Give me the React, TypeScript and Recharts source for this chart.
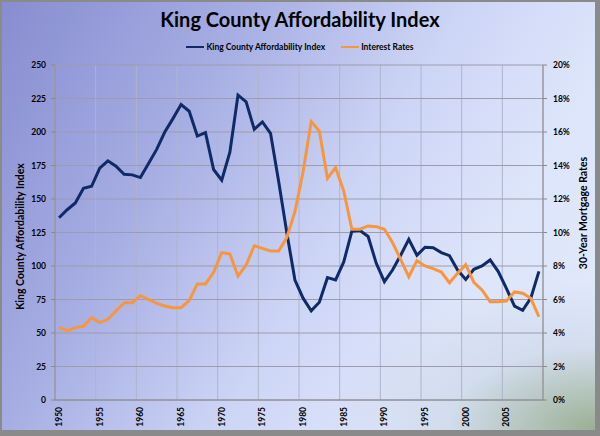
import { CartesianGrid, Line, LineChart, XAxis, YAxis } from "recharts";

// King County affordability index vs. 30-year mortgage rates, 1950-2009

const years = [
	1950, 1951, 1952, 1953, 1954, 1955, 1956, 1957, 1958, 1959,
	1960, 1961, 1962, 1963, 1964, 1965, 1966, 1967, 1968, 1969,
	1970, 1971, 1972, 1973, 1974, 1975, 1976, 1977, 1978, 1979,
	1980, 1981, 1982, 1983, 1984, 1985, 1986, 1987, 1988, 1989,
	1990, 1991, 1992, 1993, 1994, 1995, 1996, 1997, 1998, 1999,
	2000, 2001, 2002, 2003, 2004, 2005, 2006, 2007, 2008, 2009,
];

const affordability = [
	136, 142, 147, 158, 159.5, 173, 178.5, 174.5, 168.5, 168,
	166, 176.5, 187, 200, 210, 220.5, 215.5, 197, 199.5, 172,
	164, 185, 227.5, 222.5, 202, 207.5, 199, 163, 125, 89.5,
	76, 66.5, 73, 91.3, 89.6, 103, 126, 126.5, 122, 102,
	88.3, 97, 108, 120, 108, 114, 113.7, 110, 107.7, 97,
	90, 97.5, 100, 104.5, 95.8, 83.3, 70, 67, 76, 96,
];

const interestRates = [
	4.34, 4.12, 4.32, 4.4, 4.91, 4.62, 4.82, 5.31, 5.81, 5.81,
	6.23, 6.01, 5.77, 5.61, 5.51, 5.51, 5.93, 6.93, 6.93, 7.62,
	8.8, 8.72, 7.4, 8.06, 9.21, 9.05, 8.9, 8.9, 9.7, 11.24,
	13.63, 16.62, 16.06, 13.23, 13.87, 12.48, 10.19, 10.2, 10.39, 10.35,
	10.19, 9.4, 8.4, 7.36, 8.32, 8.0, 7.84, 7.64, 7.0, 7.56,
	8.08, 7.03, 6.57, 5.87, 5.87, 5.91, 6.45, 6.37, 6.07, 4.97,
];

const yearLabels = [1950, 1955, 1960, 1965, 1970, 1975, 1980, 1985, 1990, 1995, 2000, 2005];
const indexTicks = [0, 25, 50, 75, 100, 125, 150, 175, 200, 225, 250];
const rateTicks = [0, 2, 4, 6, 8, 10, 12, 14, 16, 18, 20];

const data = years.map((year, i) => ({ year, index: affordability[i], rate: interestRates[i] }));

// category boundaries (Excel puts ticks between categories)
const boundaries = [...years.map((y) => y - 0.5), years[years.length - 1] + 0.5];
const majorBoundaries = boundaries.filter((v) => (v + 0.5) % 5 === 0);
const xDomain = [boundaries[0], boundaries[boundaries.length - 1]];

const FONT = "Lato, 'DejaVu Sans', sans-serif";
const BLUE = "#0e2a68";
const ORANGE = "#f8963f";

function YearTick({ x, y, payload }: any) {
	return (
		<text
			transform={`translate(${x},${y}) rotate(-90)`}
			textAnchor="end"
			dominantBaseline="central"
			fontSize={8.5}
			fontWeight={700}
			fontFamily={FONT}
			fill="#000"
		>
			{payload.value}
		</text>
	);
}

function AxisTitle({ viewBox, value, cx, cy }: any) {
	const y = cy ?? viewBox.y + viewBox.height / 2;
	return (
		<text
			transform={`translate(${cx},${y}) rotate(-90)`}
			textAnchor="middle"
			dominantBaseline="central"
			fontSize={10.5}
			fontWeight={700}
			fontFamily={FONT}
			fill="#000"
		>
			{value}
		</text>
	);
}

function LegendItem({ color, label }: { color: string; label: string }) {
	return (
		<span style={{ display: "inline-flex", alignItems: "center", margin: "0 8px" }}>
			<span style={{ display: "inline-block", width: 18, height: 2, background: color, marginRight: 2 }} />
			<span>{label}</span>
		</span>
	);
}

// vertical gridlines at every fifth category boundary
function verticalGrid({ xAxis }: any) {
	const s = xAxis?.scale;
	if (!s) return [];
	const f = typeof s === "function" ? s : (v: number) => s.map(v);
	return majorBoundaries.map((v) => f(v)).filter((v) => typeof v === "number" && !isNaN(v));
}

export default function App() {
	const tickStyle = { fontSize: 8.5, fontWeight: 700, fontFamily: FONT, fill: "#000" };
	return (
		<div
			style={{
				position: "absolute",
				left: 0,
				top: 0,
				width: 600,
				height: 436,
				background: "#8a8a8a",
			}}
		>
			<div
				style={{
					position: "absolute",
					left: 2,
					top: 2,
					width: 593,
					height: 428,
					background:
						"radial-gradient(ellipse 45% 35% at 100% 100%, rgba(150,172,140,0.95) 0%, rgba(190,205,215,0.4) 55%, rgba(220,228,250,0) 100%), linear-gradient(120deg, #878dd0 0%, #a7aee3 30%, #cdd5f6 55%, #dde5fb 75%, #e3eafc 100%)",
				}}
			/>
			<div
				style={{
					position: "absolute",
					left: 0,
					top: 7,
					width: 600,
					textAlign: "center",
					fontFamily: FONT,
					fontWeight: 700,
					fontSize: 20,
					color: "#000",
				}}
			>
				King County Affordability Index
			</div>
			<div
				style={{
					position: "absolute",
					left: 0,
					top: 40,
					width: 600,
					textAlign: "center",
					fontFamily: FONT,
					fontWeight: 700,
					fontSize: 8.5,
					color: "#000",
				}}
			>
				<LegendItem color={BLUE} label="King County Affordability Index" />
				<LegendItem color={ORANGE} label="Interest Rates" />
			</div>
			<div style={{ position: "absolute", left: 0, top: 0 }}>
				<LineChart width={600} height={436} data={data} margin={{ top: 65, right: 7, bottom: 6, left: 8 }}>
					<XAxis
						xAxisId="minor"
						dataKey="year"
						type="number"
						domain={xDomain}
						ticks={boundaries}
						tick={false}
						tickSize={3}
						height={0}
						axisLine={false}
						stroke="#8a8a8a"
					/>
					<XAxis
						xAxisId="major"
						dataKey="year"
						type="number"
						domain={xDomain}
						ticks={majorBoundaries}
						tick={false}
						tickSize={5}
						height={0}
						axisLine={false}
						stroke="#8a8a8a"
					/>
					<XAxis
						xAxisId="labels"
						dataKey="year"
						type="number"
						domain={xDomain}
						ticks={yearLabels}
						tick={<YearTick />}
						tickLine={false}
						tickSize={0}
						tickMargin={7}
						height={30}
						stroke="#8a8a8a"
						interval={0}
					/>
					<YAxis
						yAxisId="left"
						orientation="left"
						domain={[0, 250]}
						ticks={indexTicks}
						width={47}
						tickSize={4}
						tickMargin={5}
						tick={tickStyle}
						stroke="#8a8a8a"
						interval={0}
						label={<AxisTitle value="King County Affordability Index" cx={19.5} cy={236.5} />}
					/>
					<YAxis
						yAxisId="right"
						orientation="right"
						domain={[0, 20]}
						ticks={rateTicks}
						width={50}
						tickSize={4}
						tickMargin={6}
						tick={tickStyle}
						tickFormatter={(v: number) => `${v}%`}
						stroke="#8a8a8a"
						interval={0}
						label={<AxisTitle value="30-Year Mortgage Rates" cx={583} cy={213} />}
					/>
					<CartesianGrid
						xAxisId="labels"
						yAxisId="left"
						horizontal={false}
						verticalCoordinatesGenerator={verticalGrid}
						stroke="#b0b4ca"
						strokeWidth={1}
					/>
					<CartesianGrid xAxisId="labels" yAxisId="left" vertical={false} stroke="#9c9cac" strokeWidth={1} />
					<Line
						xAxisId="labels"
						yAxisId="left"
						dataKey="index"
						type="linear"
						stroke={BLUE}
						strokeWidth={3}
						dot={false}
						isAnimationActive={false}
					/>
					<Line
						xAxisId="labels"
						yAxisId="right"
						dataKey="rate"
						type="linear"
						stroke={ORANGE}
						strokeWidth={3}
						dot={false}
						isAnimationActive={false}
					/>
				</LineChart>
			</div>
		</div>
	);
}
